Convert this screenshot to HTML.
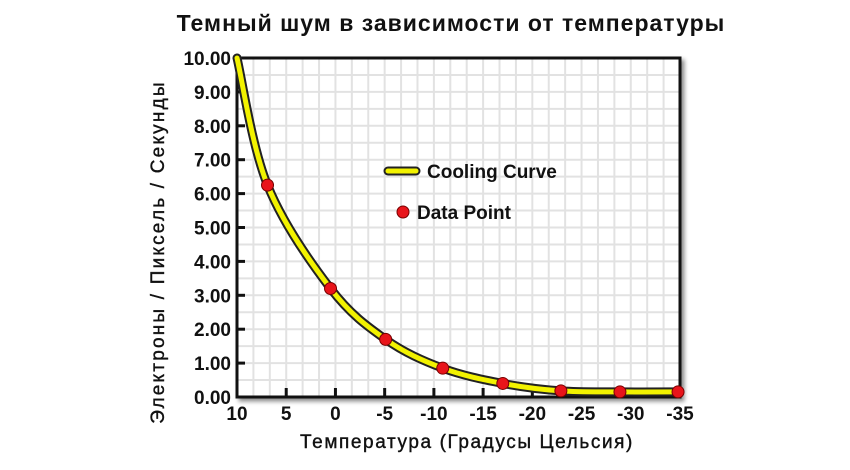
<!DOCTYPE html>
<html><head><meta charset="utf-8"><style>
body{margin:0;background:#fff;width:850px;height:470px;overflow:hidden}
svg{display:block}
text{font-family:"Liberation Sans",sans-serif;font-weight:bold;fill:#111}
</style></head><body>
<svg id="c" width="850" height="470">
<defs><filter id="sh" x="-5%" y="-5%" width="115%" height="115%"><feDropShadow dx="3" dy="3" stdDeviation="2" flood-color="#000" flood-opacity="0.45"/></filter></defs>
<text x="451" y="31" text-anchor="middle" font-size="23" letter-spacing="1">Темный шум в зависимости от температуры</text>
<text x="467" y="448" text-anchor="middle" font-size="19" letter-spacing="1.6" style="font-weight:normal;stroke:#111;stroke-width:0.4">Температура (Градусы Цельсия)</text>
<text transform="translate(164,252) rotate(-90)" text-anchor="middle" font-size="19" letter-spacing="2.2" style="font-weight:normal;stroke:#111;stroke-width:0.4">Электроны / Пиксель / Секунды</text>
<g id="plot"></g>
</svg>
<script>
const xTicks=[10,5,0,-5,-10,-15,-20,-25,-30,-35];
const yTicks=[0,1,2,3,4,5,6,7,8,9,10];
const temps=[6.9,0.5,-5.1,-10.9,-17,-22.9,-28.9,-34.8];
const noise=[6.25,3.2,1.7,0.85,0.4,0.18,0.15,0.15];
const curveT=[10,6.9,0.5,-5.1,-10.9,-17,-22.9,-28.9,-34.8];
const curveV=[10,6.25,3.2,1.7,0.85,0.4,0.18,0.15,0.15];
const L=237,R=680,T=58,B=397;
const X=t=>L+(10-t)/45*(R-L);
const Y=v=>B-v/10*(B-T);
const NS="http://www.w3.org/2000/svg";
const g=document.getElementById('plot');
function mk(tag,a,p){const e=document.createElementNS(NS,tag);for(const k in a)e.setAttribute(k,a[k]);(p||g).appendChild(e);return e;}
const bg=mk('rect',{x:L,y:T,width:R-L,height:B-T,fill:'#fff',stroke:'#111','stroke-width':3,filter:'url(#sh)'});


for(let t=10;t>=-35;t-=5/3){const l=mk('line',{x1:X(t),x2:X(t),y1:T,y2:B,stroke:'#e2e2e2','stroke-width':2});

}
for(let v=0;v<=10;v+=0.5){const l=mk('line',{x1:L,x2:R,y1:Y(v),y2:Y(v),stroke:'#e2e2e2','stroke-width':2});

}
mk('rect',{x:L,y:T,width:R-L,height:B-T,fill:'none',stroke:'#111','stroke-width':3});
xTicks.forEach(t=>{const l=mk('line',{x1:X(t),x2:X(t),y1:B,y2:B-9,stroke:'#111','stroke-width':3});


const tx=mk('text',{x:X(t),y:B+23,'text-anchor':'middle','font-size':19});tx.textContent=t;

});
yTicks.forEach(v=>{const l=mk('line',{x1:L,x2:L+8,y1:Y(v),y2:Y(v),stroke:'#111','stroke-width':3});


const tx=mk('text',{x:L-6,y:Y(v)+7,'text-anchor':'end','font-size':19});tx.textContent=v.toFixed(2);

});
const P=curveT.map((t,i)=>[X(t),Y(curveV[i])]);
let d='M'+P[0][0]+','+P[0][1];
for(let i=0;i<P.length-1;i++){const p0=P[Math.max(0,i-1)],p1=P[i],p2=P[i+1],p3=P[Math.min(P.length-1,i+2)];
d+=` C${p1[0]+(p2[0]-p0[0])/6},${p1[1]+(p2[1]-p0[1])/6} ${p2[0]-(p3[0]-p1[0])/6},${p2[1]-(p3[1]-p1[1])/6} ${p2[0]},${p2[1]}`;}
mk('path',{d,fill:'none',stroke:'#222','stroke-width':9,'stroke-linecap':'round'});
const cv=mk('path',{d,fill:'none',stroke:'#f2f200','stroke-width':5,'stroke-linecap':'round'});


temps.forEach((t,i)=>{const c=mk('circle',{cx:X(t),cy:Y(noise[i]),r:6,fill:'#e8141a',stroke:'#700','stroke-width':1});

});
const lg=mk('g',{});


mk('line',{x1:388,x2:416,y1:171,y2:171,stroke:'#222','stroke-width':9,'stroke-linecap':'round'},lg);
mk('line',{x1:388,x2:416,y1:171,y2:171,stroke:'#f2f200','stroke-width':5,'stroke-linecap':'round'},lg);
const t1=mk('text',{x:427,y:178,'font-size':19},lg);t1.textContent='Cooling Curve';


mk('circle',{cx:403,cy:212,r:6,fill:'#e8141a',stroke:'#700'},lg);
const t2=mk('text',{x:417,y:219,'font-size':19},lg);t2.textContent='Data Point';


</script>
</body></html>
